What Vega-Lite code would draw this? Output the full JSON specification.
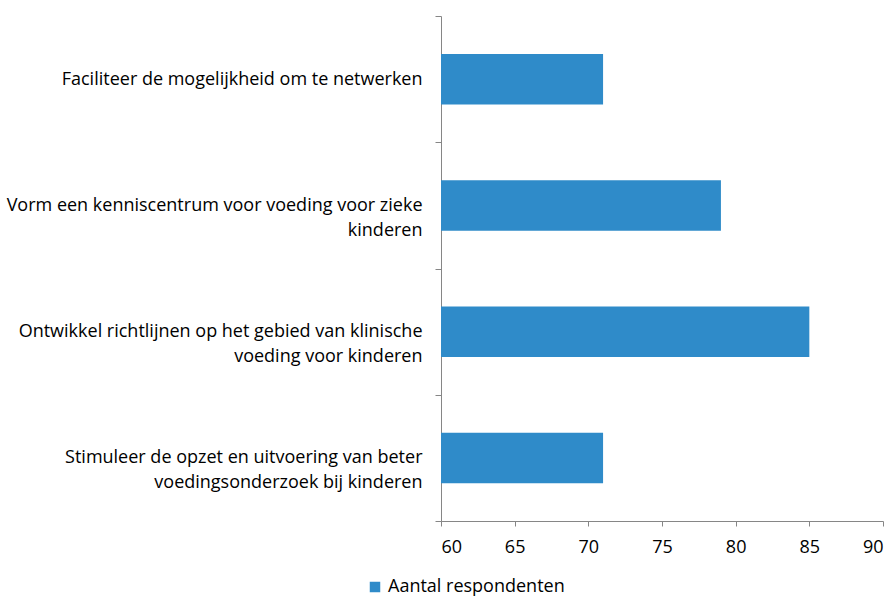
{
  "$schema": "https://vega.github.io/schema/vega-lite/v6.json",
  "width": 442,
  "height": 505,
  "autosize": "none",
  "padding": {"left": 441, "top": 16, "right": 12, "bottom": 77},
  "background": "white",
  "config": {
    "view": {"stroke": null},
    "axis": {"grid": false, "domainColor": "#868686", "tickColor": "#868686", "labelColor": "#000000", "labelFont": "Open Sans", "labelFontSize": 18}
  },
  "data": {
    "values": [
      {"item": "Faciliteer de mogelijkheid om te netwerken", "Aantal": 71, "reeks": "Aantal respondenten"},
      {"item": "Vorm een kenniscentrum voor voeding voor zieke|kinderen", "Aantal": 79, "reeks": "Aantal respondenten"},
      {"item": "Ontwikkel richtlijnen op het gebied van klinische|voeding voor kinderen", "Aantal": 85, "reeks": "Aantal respondenten"},
      {"item": "Stimuleer de opzet en uitvoering van beter|voedingsonderzoek bij  kinderen", "Aantal": 71, "reeks": "Aantal respondenten"}
    ]
  },
  "mark": {"type": "bar", "clip": true, "height": {"band": 0.4}},
  "encoding": {
    "y": {
      "field": "item",
      "type": "nominal",
      "sort": null,
      "scale": {"paddingInner": 0, "paddingOuter": 0},
      "axis": {
        "title": null,
        "tickBand": "extent",
        "tickSize": 6,
        "labelAlign": "right",
        "labelBaseline": "middle",
        "labelLineHeight": 25,
        "labelLimit": 500,
        "labelPadding": 13,
        "labelExpr": "split(datum.label, '|')"
      }
    },
    "x": {
      "field": "Aantal",
      "type": "quantitative",
      "scale": {"domain": [60, 90], "nice": false, "zero": false},
      "axis": {"title": null, "values": [60, 65, 70, 75, 80, 85, 90], "tickSize": 5, "labelPadding": 12}
    },
    "color": {
      "field": "reeks",
      "type": "nominal",
      "scale": {"range": ["#2F8BC9"]},
      "legend": {
        "title": null,
        "orient": "none",
        "legendX": -75,
        "legendY": 562,
        "symbolType": "square",
        "symbolSize": 110,
        "symbolStrokeWidth": 0,
        "labelFontSize": 18,
        "labelLimit": 400,
        "labelColor": "#000000",
        "labelFont": "Open Sans"
      }
    }
  }
}
